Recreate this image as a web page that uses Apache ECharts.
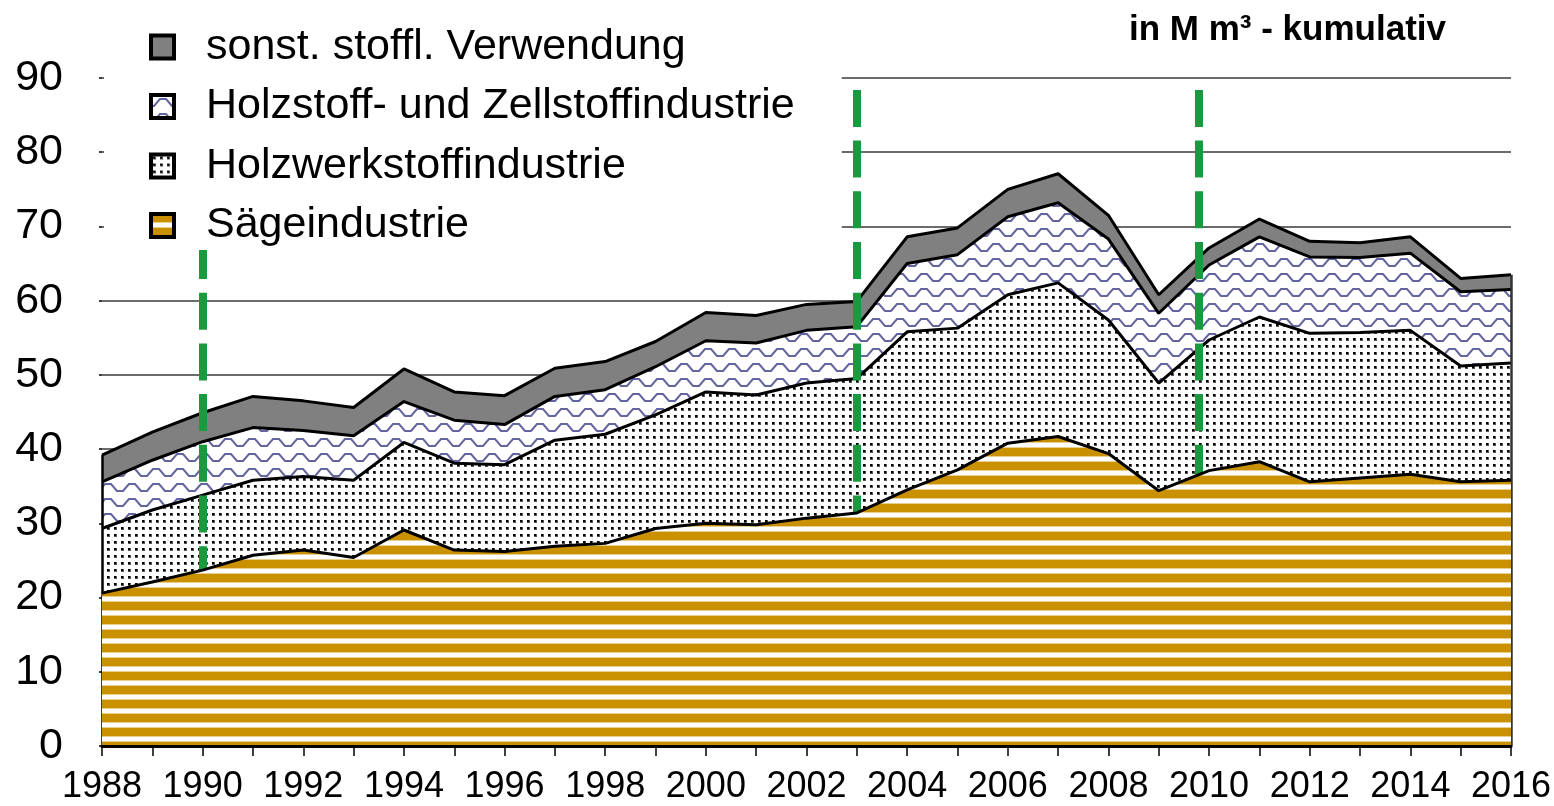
<!DOCTYPE html>
<html>
<head>
<meta charset="utf-8">
<script src="https://cdn.jsdelivr.net/npm/echarts@6/dist/echarts.min.js"></script>
<style>
  html, body { margin: 0; padding: 0; background: #fff; }
  #chart { width: 1554px; height: 806px; }
</style>
</head>
<body>
<div id="chart"></div>
<script>
const years = ['1988','1989','1990','1991','1992','1993','1994','1995','1996','1997','1998','1999','2000','2001','2002',
  '2003','2004','2005','2006','2007','2008','2009','2010','2011','2012','2013','2014','2015','2016'];

// Mio. m³ per Branche (nicht kumuliert, wird gestapelt)
const saege = [20.6, 22.1, 23.7, 25.7, 26.4, 25.4, 29.1, 26.4, 26.2, 26.9, 27.3, 29.3, 30.0, 29.8, 30.7,
  31.4, 34.5, 37.2, 40.8, 41.7, 39.4, 34.4, 37.1, 38.3, 35.6, 36.1, 36.6, 35.6, 35.8];
const holzwerk = [8.7, 9.7, 10.1, 10.1, 9.9, 10.4, 11.8, 11.7, 11.7, 14.3, 14.7, 15.3, 17.7, 17.5, 18.2,
  18.1, 21.3, 19.1, 20.0, 20.7, 18.0, 14.5, 17.6, 19.5, 20.0, 19.6, 19.4, 15.6, 15.8];
const zellstoff = [6.3, 6.7, 7.2, 7.1, 6.2, 6.0, 5.5, 5.8, 5.4, 5.9, 6.0, 6.5, 6.9, 7.0, 7.1,
  7.0, 9.2, 9.9, 10.5, 10.8, 10.9, 9.4, 10.1, 10.8, 10.3, 10.1, 10.4, 10.0, 9.9];
const sonst = [3.6, 3.8, 3.9, 4.2, 4.0, 3.8, 4.4, 3.8, 3.9, 3.8, 3.8, 3.4, 3.8, 3.7, 3.5,
  3.4, 3.6, 3.6, 3.7, 3.9, 3.2, 2.5, 2.3, 2.4, 2.1, 2.0, 2.2, 1.8, 2.0];

const yTicks = [0, 10, 20, 30, 40, 50, 60, 70, 80, 90];
const markYears = [1990, 2003, 2009.8];   // grüne Trennlinien
const markTop = 88.4;

const font = "'Liberation Sans', Arial, sans-serif";

// Füllmuster
function makeStripes() {
    const c = document.createElement('canvas');
    c.width = 4; c.height = 14;
    const ctx = c.getContext('2d');
    ctx.fillStyle = '#fff'; ctx.fillRect(0, 0, 4, 14);
    ctx.fillStyle = '#c99000'; ctx.fillRect(0, 0, 4, 8);
    ctx.fillStyle = '#e8cf8e'; ctx.fillRect(0, 8, 4, 1); ctx.fillRect(0, 13, 4, 1);
    return c;
}
function makeDots() {
    const c = document.createElement('canvas');
    c.width = 7; c.height = 7;
    const ctx = c.getContext('2d');
    ctx.fillStyle = '#fff'; ctx.fillRect(0, 0, 7, 7);
    ctx.fillStyle = '#555'; ctx.fillRect(2, 2, 3, 3);
    ctx.fillStyle = '#000'; ctx.fillRect(2, 2, 2, 2);
    return c;
}
function makeWaves() {
    const c = document.createElement('canvas');
    c.width = 24; c.height = 15;
    const ctx = c.getContext('2d');
    ctx.fillStyle = '#fff'; ctx.fillRect(0, 0, 24, 15);
    ctx.strokeStyle = 'rgb(100,100,160)';
    ctx.lineWidth = 2;
    ctx.beginPath();
    ctx.moveTo(0, 11); ctx.lineTo(3, 11); ctx.lineTo(9, 4); ctx.lineTo(15, 4); ctx.lineTo(21, 11); ctx.lineTo(24, 11);
    ctx.stroke();
    return c;
}

const fillSaege = { image: makeStripes(), repeat: 'repeat' };
const fillHolzwerk = { image: makeDots(), repeat: 'repeat' };
const fillZell = { image: makeWaves(), repeat: 'repeat' };
const fillSonst = '#808080';

const total = years.map((y, i) => saege[i] + holzwerk[i] + zellstoff[i] + sonst[i]);
const firstYear = +years[0];
const lastYear = +years[years.length - 1];

const chart = echarts.init(document.getElementById('chart'));

function areaSeries(name, data, fill, z) {
    return {
        name: name,
        type: 'line',
        stack: 'total',
        data: data,
        z: z,
        symbol: 'none',
        lineStyle: { color: '#000', width: 3 },
        itemStyle: { color: fill },
        areaStyle: { color: fill, opacity: 1 },
        emphasis: { disabled: true }
    };
}

const edgeLines = [
    [{ coord: [firstYear, total[0]], lineStyle: { color: '#000', width: 2.5, type: 'solid' } }, { coord: [firstYear, 0] }],
    [{ coord: [lastYear, total[total.length - 1]], lineStyle: { color: '#333', width: 2.5, type: 'solid' } }, { coord: [lastYear, 0] }]
];
const greenLines = markYears.map(x => [{ coord: [x, markTop] }, { coord: [x, 0] }]);

chart.setOption({
    animation: false,
    backgroundColor: '#fff',
    title: {
        text: 'in M m³ - kumulativ',
        right: 108,
        top: 13,
        padding: 0,
        textStyle: { fontFamily: font, fontSize: 35, fontWeight: 'bold', color: '#000' }
    },
    legend: {
        orient: 'vertical',
        left: 104,
        top: 0,
        padding: [25.5, 47, 3, 45],
        backgroundColor: '#fff',
        z: 10,
        icon: 'rect',
        itemWidth: 23,
        itemHeight: 23,
        itemGap: 16.5,
        selectedMode: false,
        textStyle: { fontFamily: font, fontSize: 43, color: '#000', padding: [0, 0, 0, 27] },
        data: [
            { name: 'sonst. stoffl. Verwendung', itemStyle: { color: fillSonst, borderColor: '#000', borderWidth: 4 } },
            { name: 'Holzstoff- und Zellstoffindustrie', itemStyle: { color: fillZell, borderColor: '#000', borderWidth: 4 } },
            { name: 'Holzwerkstoffindustrie', itemStyle: { color: fillHolzwerk, borderColor: '#000', borderWidth: 4 } },
            { name: 'Sägeindustrie', itemStyle: { color: fillSaege, borderColor: '#000', borderWidth: 4 } }
        ]
    },
    grid: { left: 102, right: 43, top: 78, bottom: 60, containLabel: false, outerBoundsMode: 'none' },
    xAxis: [
        {
            type: 'category',
            data: years,
            boundaryGap: false,
            z: 7,
            axisLine: { lineStyle: { color: '#000', width: 3 } },
            axisTick: { interval: 0, length: 10, lineStyle: { color: '#000', width: 1.5 } },
            axisLabel: { interval: 1, margin: 23, fontFamily: font, fontSize: 36, color: '#000' },
            splitLine: { show: false }
        },
        {
            type: 'value',
            min: firstYear,
            max: lastYear,
            show: false,
            splitLine: { show: false }
        }
    ],
    yAxis: {
        type: 'value',
        min: yTicks[0],
        max: yTicks[yTicks.length - 1],
        interval: yTicks[1] - yTicks[0],
        axisLine: { show: false },
        axisTick: { show: true, length: 3, lineStyle: { color: '#000', width: 1.5 } },
        axisLabel: { margin: 39, fontFamily: font, fontSize: 43, color: '#000' },
        splitLine: { lineStyle: { color: '#3a3a3a', width: 1.6 } }
    },
    series: [
        areaSeries('Sägeindustrie', saege, fillSaege, 5),
        areaSeries('Holzwerkstoffindustrie', holzwerk, fillHolzwerk, 4),
        areaSeries('Holzstoff- und Zellstoffindustrie', zellstoff, fillZell, 3),
        areaSeries('sonst. stoffl. Verwendung', sonst, fillSonst, 2),
        {
            name: 'Ränder',
            type: 'line',
            xAxisIndex: 1,
            data: [],
            z: 6,
            markLine: {
                silent: true,
                symbol: ['none', 'none'],
                label: { show: false },
                lineStyle: { color: '#1a9a3e', width: 8, type: [37, 13.7] },
                data: edgeLines.concat(greenLines)
            }
        }
    ]
});
</script>
</body>
</html>
